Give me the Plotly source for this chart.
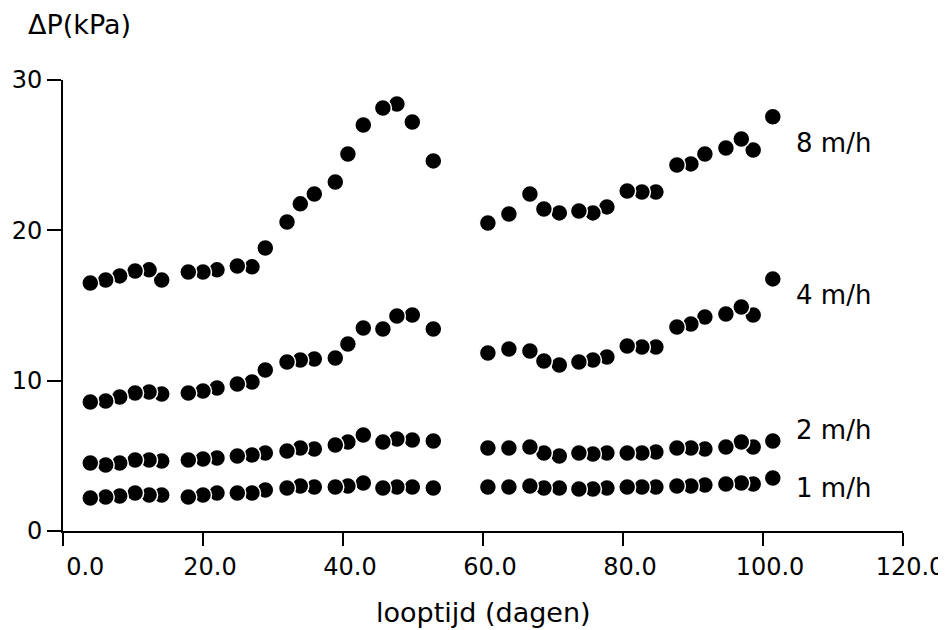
import plotly.graph_objects as go

# looptijd in dagen (gemeenschappelijk voor alle reeksen)
dagen = [3.9, 6.1, 8.1, 10.3, 12.3, 14.1, 17.9, 20.0, 22.0, 24.9, 27.0, 28.9,
         32.0, 33.9, 35.9, 38.9, 40.7, 42.9, 45.7, 47.7, 49.9, 52.9,
         60.7, 63.7, 66.7, 68.7, 70.9, 73.7, 75.7, 77.7, 80.6, 82.7, 84.7,
         87.7, 89.7, 91.7, 94.7, 96.9, 98.6, 101.4]

# drukval (kPa) per filtersnelheid
dp_8 = [16.5, 16.7, 16.97, 17.3, 17.37, 16.7, 17.23, 17.23, 17.37, 17.63, 17.57, 18.83,
        20.56, 21.76, 22.42, 23.22, 25.08, 27.01, 28.14, 28.41, 27.21, 24.62,
        20.49, 21.09, 22.42, 21.42, 21.16, 21.29, 21.16, 21.56, 22.62, 22.55, 22.55,
        24.35, 24.42, 25.08, 25.48, 26.08, 25.35, 27.55]
dp_4 = [8.58, 8.65, 8.92, 9.18, 9.25, 9.12, 9.18, 9.31, 9.51, 9.78, 9.91, 10.71,
        11.24, 11.38, 11.44, 11.51, 12.44, 13.51, 13.44, 14.3, 14.37, 13.44,
        11.84, 12.11, 11.98, 11.31, 11.04, 11.24, 11.38, 11.58, 12.31, 12.24, 12.24,
        13.57, 13.77, 14.24, 14.44, 14.9, 14.37, 16.77]
dp_2 = [4.52, 4.39, 4.52, 4.72, 4.72, 4.66, 4.72, 4.79, 4.86, 4.99, 5.06, 5.19,
        5.32, 5.52, 5.46, 5.72, 5.92, 6.39, 5.92, 6.12, 6.05, 5.99,
        5.52, 5.52, 5.59, 5.19, 4.99, 5.19, 5.12, 5.19, 5.19, 5.19, 5.26,
        5.52, 5.52, 5.46, 5.59, 5.92, 5.59, 5.99]
dp_1 = [2.2, 2.26, 2.33, 2.53, 2.4, 2.4, 2.26, 2.4, 2.53, 2.53, 2.53, 2.73,
        2.86, 2.99, 2.93, 2.93, 2.99, 3.19, 2.86, 2.93, 2.93, 2.86,
        2.93, 2.93, 2.99, 2.86, 2.86, 2.79, 2.79, 2.86, 2.93, 2.93, 2.93,
        2.99, 2.99, 3.06, 3.13, 3.19, 3.13, 3.53]

reeksen = [("8 m/h", dp_8, 25.8), ("4 m/h", dp_4, 15.7),
           ("2 m/h", dp_2, 6.7), ("1 m/h", dp_1, 2.86)]

x_ticks = [0, 20, 40, 60, 80, 100, 120]
x_ticktext = ["\u00a0\u00a0\u00a0\u00a00.0", "20.0", "40.0", "60.0", "80.0", "100.0", "120.0"]
y_ticks = [0, 10, 20, 30]

FONT = "DejaVu Sans"

fig = go.Figure()
for naam, dp, y_lab in reeksen:
    # omgekeerde volgorde: eerdere punten liggen bovenop (zoals in het origineel)
    fig.add_trace(go.Scatter(x=dagen[::-1], y=dp[::-1], mode="markers", name=naam,
                             marker=dict(size=17, color="black",
                                         line=dict(color="white", width=1.5)),
                             showlegend=False, cliponaxis=False))
    fig.add_annotation(x=104.4, y=y_lab, text=naam, showarrow=False,
                       xanchor="left", yanchor="middle",
                       font=dict(family=FONT, size=26, color="black"))

fig.add_annotation(xref="paper", yref="paper", x=0.5, y=-0.18, text="looptijd (dagen)",
                   showarrow=False, xanchor="center", yanchor="middle",
                   font=dict(family=FONT, size=27, color="black"))
fig.add_annotation(xref="paper", yref="paper", x=-0.044, y=1.124, text="ΔP(kPa)",
                   showarrow=False, xanchor="left", yanchor="middle",
                   font=dict(family=FONT, size=27, color="black"))

fig.update_xaxes(range=[0, 120], tickvals=x_ticks, ticktext=x_ticktext,
                 ticks="outside", ticklen=13, tickwidth=2, tickcolor="black",
                 showline=True, linewidth=2, linecolor="black",
                 showgrid=False, zeroline=False, ticklabelshift=7, automargin=False,
                 tickfont=dict(family=FONT, size=24, color="black"))
fig.update_yaxes(range=[0, 30], tickvals=y_ticks,
                 ticks="outside", ticklen=14, tickwidth=2, tickcolor="black",
                 showline=True, linewidth=2, linecolor="black",
                 showgrid=False, zeroline=False, automargin=False,
                 tickfont=dict(family=FONT, size=24, color="black"))

# de pagina heeft 8px marge rond de figuur: daarvoor gecorrigeerd
fig.update_layout(width=938, height=622, plot_bgcolor="white", paper_bgcolor="white",
                  margin=dict(l=55, r=43, t=72, b=99), font=dict(family=FONT))

fig.write_html("out.html")
